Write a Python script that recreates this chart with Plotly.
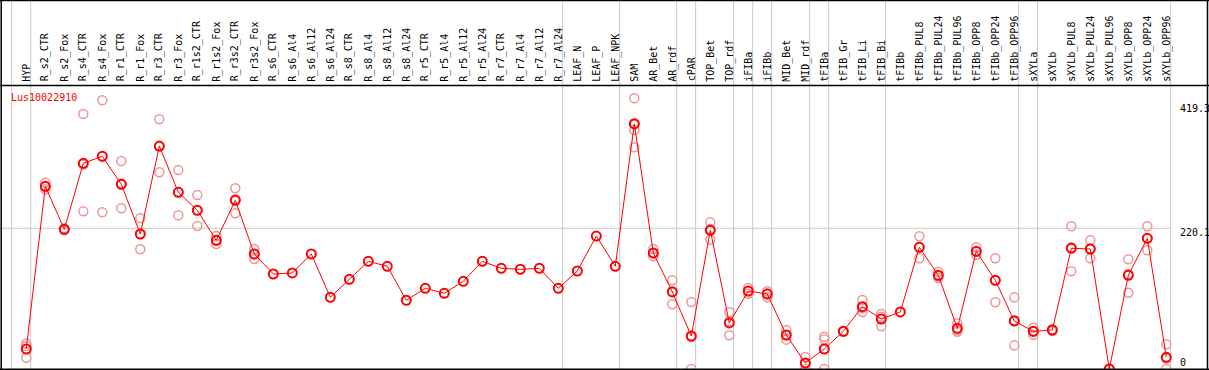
import plotly.graph_objects as go

W, H = 1209, 370

categories = [
    "HYP", "R_s2_CTR", "R_s2_Fox", "R_s4_CTR", "R_s4_Fox", "R_r1_CTR", "R_r1_Fox",
    "R_r3_CTR", "R_r3_Fox", "R_r1s2_CTR", "R_r1s2_Fox", "R_r3s2_CTR", "R_r3s2_Fox",
    "R_s6_CTR", "R_s6_Al4", "R_s6_Al12", "R_s6_Al24", "R_s8_CTR", "R_s8_Al4",
    "R_s8_Al12", "R_s8_Al24", "R_r5_CTR", "R_r5_Al4", "R_r5_Al12", "R_r5_Al24",
    "R_r7_CTR", "R_r7_Al4", "R_r7_Al12", "R_r7_Al24", "LEAF_N", "LEAF_P", "LEAF_NPK",
    "SAM", "AR_Bet", "AR_rdf", "cPAR", "TOP_Bet", "TOP_rdf", "iFIBa", "iFIBb",
    "MID_Bet", "MID_rdf", "tFIBa", "tFIB_Gr", "tFIB_Li", "tFIB_Bi", "tFIBb",
    "tFIBb_PUL8", "tFIBb_PUL24", "tFIBb_PUL96", "tFIBb_OPP8", "tFIBb_OPP24",
    "tFIBb_OPP96", "sXYLa", "sXYLb", "sXYLb_PUL8", "sXYLb_PUL24", "sXYLb_PUL96",
    "sXYLb_OPP8", "sXYLb_OPP24", "sXYLb_OPP96",
]

mean_values = [
    31.3, 285.8, 218.5, 321.8, 332.7, 288.9, 211.2, 348.8, 276.4, 248.2, 201.3, 263.9, 179.9,
    148.6, 150.2, 179.9, 112.1, 140.3, 168.4, 160.7, 107.5, 126.2, 118.4, 137.2, 168.4,
    157.5, 155.9, 157.5, 126.2, 153.3, 208.0, 160.7,
    383.3, 181.5, 120.5, 51.6, 217.0, 72.0, 122.0, 117.3, 53.2, 9.4, 31.3, 58.9, 97.5, 78.2, 89.2,
    190.4, 146.6, 63.6, 184.1, 138.7, 75.1, 58.9, 61.0, 188.8, 187.7, 0.0, 146.6, 204.4, 18.3,
]

replicates = [
    [40.0, 36.0, 17.7], [291.4, 281.2, 285.0], [220.0, 217.0, 218.5], [398.9, 246.6, 320.0],
    [420.3, 245.1, 332.7], [325.4, 251.4, 290.0], [235.7, 187.2, 211.0], [390.6, 307.7, 348.0],
    [311.3, 240.4, 277.0], [272.2, 223.7, 248.5], [208.0, 195.5, 200.5], [282.7, 243.6, 265.5],
    [187.7, 172.1, 180.0],
    [], [], [], [], [], [], [], [], [], [], [], [], [], [], [], [], [], [], [],
    [423.5, 385.0, 373.8, 346.8], [187.7, 176.3, 180.5], [138.8, 101.2, 121.5],
    [104.8, 0.0, 50.0], [229.5, 202.3, 219.2], [88.7, 52.7, 74.6], [126.7, 117.8, 121.5],
    [121.5, 112.2, 118.2], [61.0, 45.9, 52.7], [18.8, 0.0, 9.4], [50.5, 46.4, 0.0],
    [59.5, 58.3], [107.9, 89.2, 95.4], [86.0, 66.8, 81.8], [],
    [207.6, 173.2, 190.4], [152.2, 142.4, 145.2], [71.5, 58.4, 61.0], [190.4, 178.8, 183.1],
    [173.2, 104.3, 138.6], [112.1, 37.0, 76.2], [64.6, 53.7, 58.4], [62.0, 59.5],
    [223.2, 152.8, 190.4], [201.3, 173.2, 188.6], [0.0, 0.0], [171.6, 119.4, 148.8],
    [223.2, 185.7, 204.3], [38.6, 0.0, 16.3],
]

# group boundaries: separator drawn just after these column indices
group_breaks = [-1, 0, 28, 31, 34, 35, 37, 38, 39, 41, 42, 45, 52, 53, 60]
scale_labels = ["419.3", "220.1", "0"]
grid_value = 220.1
gene_name = "Lus10022910"

# pixel geometry
X0, DX = 26.3, 19.0            # px position of column 0, px per column
Y0, PXU = 369.0, 140.7 / 220.1  # px of value 0, px per unit

x_range = [-X0 / DX, (W - X0) / DX]
y_range = [(Y0 - H) / PXU, Y0 / PXU]

def px_x(px):
    return px / W

def px_y(py):
    return 1 - py / H

xs = list(range(len(categories)))
rep_x, rep_y = [], []
for i, reps in enumerate(replicates):
    for v in reps:
        rep_x.append(i)
        rep_y.append(v)

font = "DejaVu Sans Mono"

fig = go.Figure()
fig.add_trace(go.Scatter(
    x=rep_x, y=rep_y, mode="markers",
    marker=dict(symbol="circle-open", size=9, color="rgb(238,150,150)", line=dict(width=1.5)),
    hoverinfo="skip", showlegend=False,
))
fig.add_trace(go.Scatter(
    x=xs, y=mean_values, mode="lines+markers",
    line=dict(color="#ff0000", width=1),
    marker=dict(symbol="circle-open", size=9, color="#ff0000", line=dict(width=2)),
    showlegend=False,
))

shapes = []
gray = "rgb(200,200,200)"
# horizontal grid line
shapes.append(dict(type="line", xref="paper", yref="y", x0=0, x1=px_x(1170.5),
                   y0=grid_value, y1=grid_value, line=dict(color=gray, width=1), layer="below"))
# vertical separators
for b in group_breaks:
    xv = b + 0.23
    shapes.append(dict(type="line", xref="x", yref="paper", x0=xv, x1=xv, y0=0, y1=1,
                       line=dict(color=gray, width=1), layer="below"))
# borders
blk = dict(color="black", width=1.5)
shapes += [
    dict(type="line", xref="paper", yref="paper", x0=px_x(1.2), x1=px_x(1.2), y0=0, y1=1, line=blk),
    dict(type="line", xref="paper", yref="paper", x0=px_x(1207.5), x1=px_x(1207.5), y0=0, y1=1, line=blk),
    dict(type="line", xref="paper", yref="paper", x0=0, x1=1, y0=px_y(0.6), y1=px_y(0.6), line=blk),
    dict(type="line", xref="paper", yref="paper", x0=0, x1=1, y0=px_y(85.5), y1=px_y(85.5), line=blk),
    dict(type="line", xref="paper", yref="paper", x0=0, x1=1, y0=px_y(369.3), y1=px_y(369.3), line=blk),
]

annotations = []
for i, c in enumerate(categories):
    annotations.append(dict(x=i, xref="x", y=px_y(83.5), yref="paper", text=c, textangle=-90,
                            showarrow=False, xanchor="center", yanchor="bottom",
                            font=dict(family=font, size=10, color="black")))
label_py = [108, 232, 362]
for t, py in zip(scale_labels, label_py):
    annotations.append(dict(x=px_x(1177.5), xref="paper", y=px_y(py), yref="paper", text=t,
                            showarrow=False, xanchor="left", yanchor="middle",
                            font=dict(family=font, size=10, color="black")))
annotations.append(dict(x=px_x(9), xref="paper", y=px_y(97), yref="paper", text=gene_name,
                        showarrow=False, xanchor="left", yanchor="middle",
                        font=dict(family=font, size=10, color="#ff0000")))

fig.update_layout(
    width=W, height=H, margin=dict(l=0, r=0, t=0, b=0),
    paper_bgcolor="white", plot_bgcolor="white",
    xaxis=dict(range=x_range, visible=False, fixedrange=True),
    yaxis=dict(range=y_range, visible=False, fixedrange=True),
    shapes=shapes, annotations=annotations, showlegend=False,
)
fig.write_html("out.html",
               config={"displayModeBar": False},
               post_script="document.body.style.margin='0px';document.body.style.overflow='hidden';")
